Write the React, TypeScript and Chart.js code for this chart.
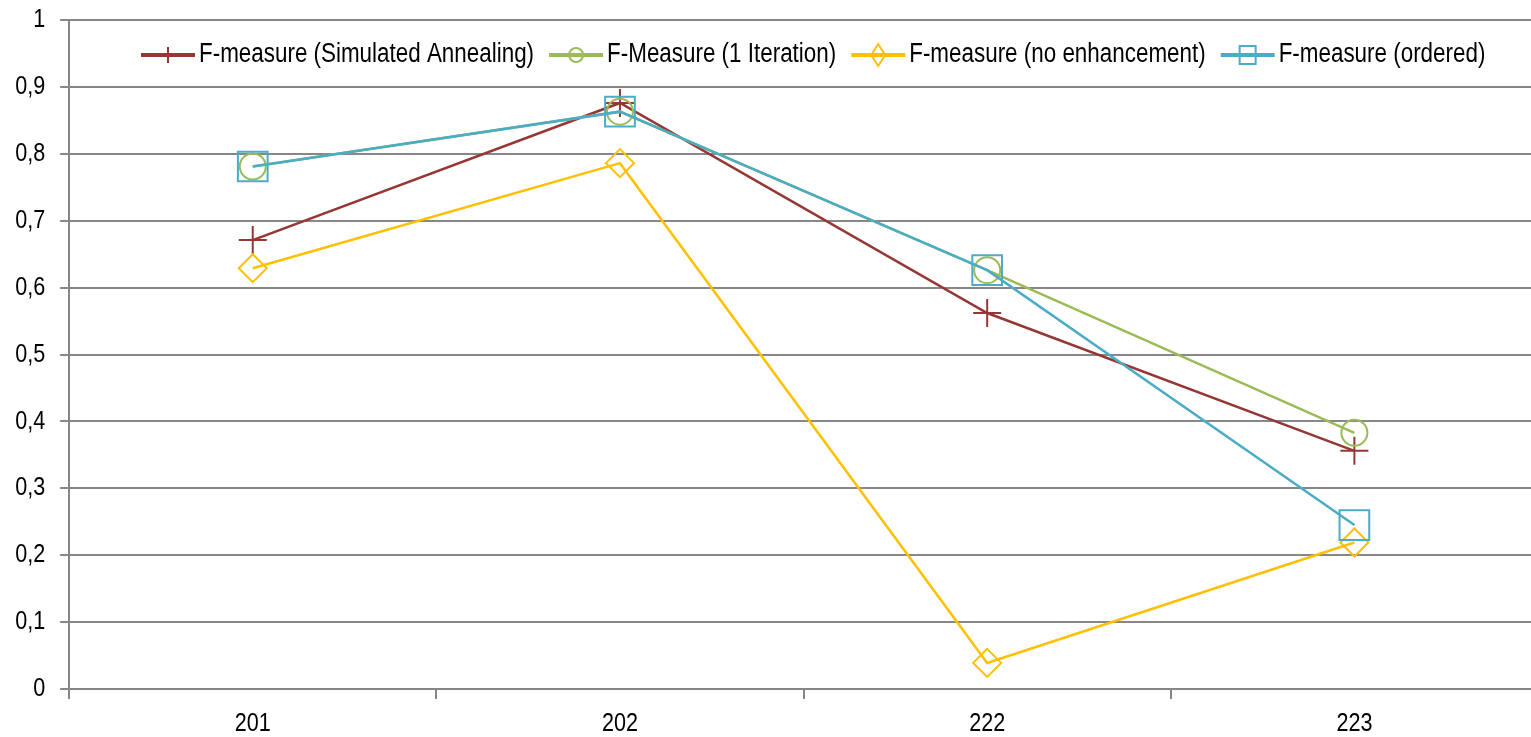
import React, { useEffect, useRef } from 'react';
import { Chart, registerables } from 'chart.js';

Chart.register(...registerables);

const categories = ['201', '202', '222', '223'];
const seriesLabels = [
  'F-measure (Simulated Annealing)',
  'F-Measure (1 Iteration)',
  'F-measure (no enhancement)',
  'F-measure (ordered)',
];
const simulatedAnnealing = [0.671, 0.876, 0.562, 0.356];
const oneIteration = [0.781, 0.863, 0.626, 0.383];
const noEnhancement = [0.629, 0.786, 0.039, 0.219];
const ordered = [0.781, 0.863, 0.626, 0.245];
const yTickValues = [0, 0.1, 0.2, 0.3, 0.4, 0.5, 0.6, 0.7, 0.8, 0.9, 1];
const yTickLabels = ['0', '0,1', '0,2', '0,3', '0,4', '0,5', '0,6', '0,7', '0,8', '0,9', '1'];

const COLORS = ['#953735', '#9BBB59', '#FFC000', '#4BACC6'];
const POINT_STYLES = ['cross', 'circle', 'rectRot', 'rect'];
const POINT_RADII = [14, 13, 14, 21];
const FONT = "'Liberation Sans', Arial, sans-serif";
const GRID = '#878787';
const TEXT_SCALE = 0.83; // narrow (condensed) text look of the original

function drawLegendMarker(ctx: CanvasRenderingContext2D, style: string, x: number, y: number) {
  ctx.beginPath();
  if (style === 'cross') {
    ctx.moveTo(x - 7, y);
    ctx.lineTo(x + 7, y);
    ctx.moveTo(x, y - 8);
    ctx.lineTo(x, y + 8);
  } else if (style === 'circle') {
    ctx.arc(x, y, 7, 0, Math.PI * 2);
  } else if (style === 'rectRot') {
    ctx.moveTo(x - 7, y);
    ctx.lineTo(x, y - 11);
    ctx.lineTo(x + 7, y);
    ctx.lineTo(x, y + 11);
    ctx.closePath();
  } else {
    ctx.rect(x - 8, y - 9, 16, 18);
  }
  ctx.stroke();
}

const narrowText = {
  id: 'narrowText',
  beforeInit(chart: any) {
    const ctx: any = chart.ctx;
    if (ctx.__narrow) return;
    ctx.__narrow = true;
    const orig = ctx.fillText.bind(ctx);
    ctx.fillText = (text: string, x: number, y: number, maxWidth?: number) => {
      ctx.save();
      ctx.translate(x, y);
      ctx.scale(TEXT_SCALE, 1);
      if (maxWidth !== undefined) orig(text, 0, 0, maxWidth / TEXT_SCALE);
      else orig(text, 0, 0);
      ctx.restore();
    };
  },
};

const inlineLegend = {
  id: 'inlineLegend',
  afterDatasetsDraw(chart: any) {
    const ctx: CanvasRenderingContext2D = chart.ctx;
    ctx.save();
    ctx.font = `27px ${FONT}`;
    ctx.textBaseline = 'middle';
    ctx.textAlign = 'left';
    let x = 141;
    const y = 55;
    chart.data.datasets.forEach((ds: any, i: number) => {
      ctx.strokeStyle = ds.borderColor;
      ctx.lineWidth = 4;
      ctx.beginPath();
      ctx.moveTo(x, y);
      ctx.lineTo(x + 54, y);
      ctx.stroke();
      ctx.lineWidth = 2;
      drawLegendMarker(ctx, POINT_STYLES[i], x + 27, y);
      ctx.fillStyle = '#000';
      ctx.fillText(ds.label, x + 58, y);
      x += 58 + ctx.measureText(ds.label).width * TEXT_SCALE + 15;
    });
    ctx.restore();
  },
};

export default function App() {
  const ref = useRef<HTMLCanvasElement | null>(null);
  useEffect(() => {
    document.body.style.margin = '0';
    const canvas = ref.current;
    if (!canvas) return;
    const seriesValues = [simulatedAnnealing, oneIteration, noEnhancement, ordered];
    const chart = new Chart(canvas, {
      type: 'line',
      data: {
        labels: categories,
        datasets: seriesValues.map((vals, i) => ({
          label: seriesLabels[i],
          data: vals,
          borderColor: COLORS[i],
          backgroundColor: 'transparent',
          borderWidth: 2.5,
          tension: 0,
          fill: false,
          pointStyle: POINT_STYLES[i] as any,
          pointRadius: POINT_RADII[i],
          pointHoverRadius: POINT_RADII[i],
          pointBorderWidth: 2,
          pointBorderColor: COLORS[i],
          pointBackgroundColor: 'transparent',
          order: 3 - i,
        })),
      },
      options: {
        responsive: false,
        animation: false,
        layout: { autoPadding: false, padding: { left: -6, right: 0, top: 20, bottom: 0 } },
        plugins: {
          legend: { display: false },
          tooltip: { enabled: false },
        },
        scales: {
          x: {
            type: 'category',
            offset: true,
            grid: {
              display: true,
              offset: true,
              drawOnChartArea: false,
              drawTicks: true,
              tickLength: 10,
              color: GRID,
              lineWidth: 2,
            },
            border: { display: true, color: GRID, width: 2 },
            ticks: {
              color: '#000',
              font: { family: FONT, size: 26, lineHeight: 1.0 },
              padding: 12,
              maxRotation: 0,
            },
          },
          y: {
            type: 'linear',
            min: 0,
            max: 1,
            afterBuildTicks: (scale: any) => {
              scale.ticks = yTickValues.map((v) => ({ value: v }));
            },
            grid: {
              color: GRID,
              lineWidth: 2,
              drawTicks: true,
              tickLength: 9,
            },
            border: { display: true, color: GRID, width: 2 },
            ticks: {
              color: '#000',
              font: { family: FONT, size: 26, lineHeight: 0.3 },
              padding: 15,
              callback: (_v: any, idx: number) => yTickLabels[idx],
            },
          },
        },
      },
      plugins: [narrowText, inlineLegend],
    });
    return () => chart.destroy();
  }, []);
  return (
    <div style={{ position: 'fixed', left: 0, top: 0, width: 1531, height: 737, overflow: 'hidden', background: '#fff' }}>
      <canvas ref={ref} width={1538} height={749} style={{ display: 'block' }} />
    </div>
  );
}
